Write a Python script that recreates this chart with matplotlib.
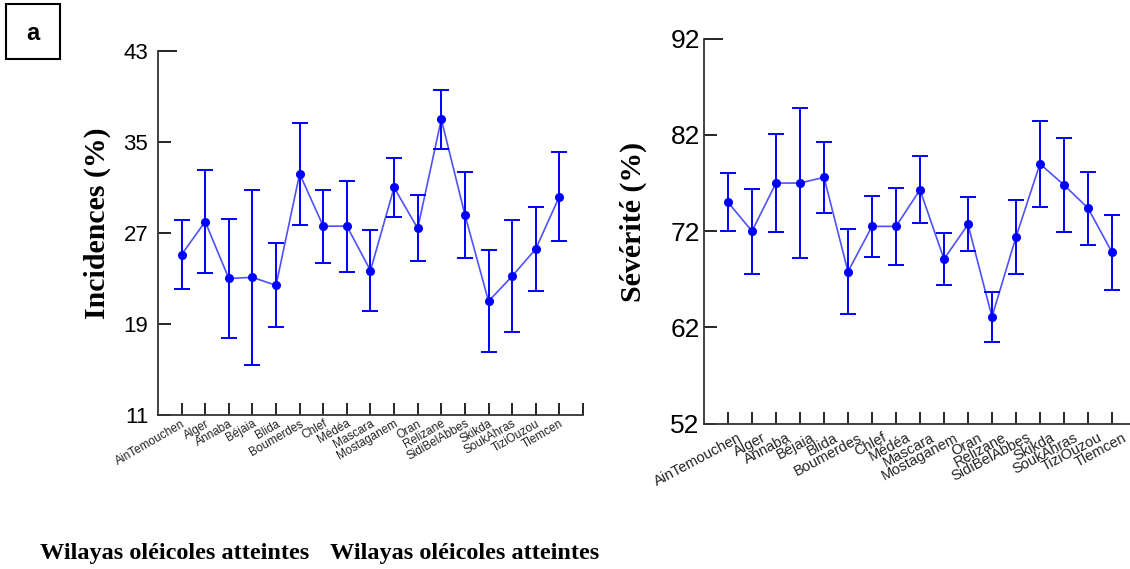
import numpy as np
import matplotlib
matplotlib.use('Agg')
import matplotlib.pyplot as plt
import matplotlib.transforms as mtransforms
from matplotlib.patches import Rectangle

# wilayas on the x axis (same order for both panels)
wilayas = ['AinTemouchen', 'Alger', 'Annaba', 'Béjaia', 'Blida', 'Boumerdes', 'Chlef',
           'Médéa', 'Mascara', 'Mostaganem', 'Oran', 'Relizane', 'SidiBelAbbes',
           'Skikda', 'SoukAhras', 'TiziOuzou', 'Tlemcen']

# incidence (%) mean and error
incidence = [25.1, 28.0, 23.0, 23.1, 22.4, 32.2, 27.6, 27.6, 23.7, 31.0, 27.4, 37.0, 28.6,
             21.0, 23.2, 25.6, 30.2]
inc_err = [3.0, 4.5, 5.2, 7.7, 3.7, 4.5, 3.2, 4.0, 3.6, 2.6, 2.9, 2.6, 3.8, 4.5, 4.9, 3.7, 3.9]

# severity (%) mean and error
severity = [75.0, 72.0, 77.0, 77.0, 77.6, 67.8, 72.5, 72.5, 76.3, 69.1, 72.7, 63.1, 71.4,
            79.0, 76.8, 74.4, 69.8]
sev_err = [3.0, 4.4, 5.1, 7.8, 3.7, 4.4, 3.2, 4.0, 3.5, 2.7, 2.8, 2.6, 3.8, 4.5, 4.9, 3.8, 3.9]

inc_ticks = [11, 19, 27, 35, 43]
sev_ticks = [52, 62, 72, 82, 92]

fig = plt.figure(figsize=(11.3, 5.69), dpi=100)

x = np.arange(1, len(wilayas) + 1)


#draws one panel with the error bars and connecting line
def panel(ax, vals, errs, yticks, ysize, ypad, xsize, xdx, xpad, rot):
    ax.plot(x, vals, color='#5050ff', lw=1.2, zorder=2)
    ax.errorbar(x, vals, yerr=errs, fmt='o', color='#0000ff', ms=5.5,
                elinewidth=1.4, capsize=6, capthick=1.4, zorder=3)
    ax.set_xlim(0, len(wilayas) + 1)
    ax.set_ylim(yticks[0], yticks[-1])
    ax.set_yticks(yticks)
    ax.set_xticks(np.arange(1, len(wilayas) + 2))
    ax.set_xticklabels(wilayas + [''], rotation=rot, ha='right', rotation_mode='anchor',
                       fontsize=xsize, family='Liberation Sans', color='#222222')
    ax.tick_params(axis='x', direction='in', length=9, width=1.2, pad=xpad)
    ax.tick_params(axis='y', direction='in', length=9, width=1.2, labelsize=ysize, pad=ypad)
    for lab in ax.get_yticklabels():
        lab.set_family('Liberation Sans')
    for s in ['top', 'right']:
        ax.spines[s].set_visible(False)
    for s in ['left', 'bottom']:
        ax.spines[s].set_linewidth(1.3)
        ax.spines[s].set_color('#333333')
    ax.yaxis.get_major_ticks()[-1].tick1line.set_markersize(14)
    off = mtransforms.ScaledTranslation(xdx / 100.0, 0, fig.dpi_scale_trans)
    for lab in ax.get_xticklabels():
        lab.set_transform(lab.get_transform() + off)


ax1 = fig.add_axes([0.1398, 0.2707, 0.3761, 0.6397])
panel(ax1, incidence, inc_err, inc_ticks, 16, 7, 8.5, 0, 2, 30)

ax2 = fig.add_axes([0.623, 0.2554, 0.3823, 0.6766])
panel(ax2, severity, sev_err, sev_ticks, 19, 3, 10.5, 10, 5, 28)

fig.text(97 / 1130, 1 - 223 / 569, 'Incidences (%)', rotation=90, ha='center', va='center',
         family='Liberation Serif', weight='bold', fontsize=21.5)
fig.text(633 / 1130, 1 - 222 / 569, 'Sévérité (%)', rotation=90, ha='center', va='center',
         family='Liberation Serif', weight='bold', fontsize=21.5)

fig.text(40 / 1130, 1 - 553 / 569, 'Wilayas oléicoles atteintes', ha='left', va='center',
         family='Liberation Serif', weight='bold', fontsize=17.5)
fig.text(330 / 1130, 1 - 553 / 569, 'Wilayas oléicoles atteintes', ha='left', va='center',
         family='Liberation Serif', weight='bold', fontsize=17.5)

# panel letter in a box
fig.patches.append(Rectangle((6 / 1130, 1 - 59 / 569), 54 / 1130, 55 / 569,
                             transform=fig.transFigure, fc='white', ec='black', lw=1.5))
fig.text(33 / 1130, 1 - 34 / 569, 'a', ha='center', va='center', fontsize=17, weight='bold',
         family='Liberation Sans')

plt.savefig('out.png', dpi=100)
